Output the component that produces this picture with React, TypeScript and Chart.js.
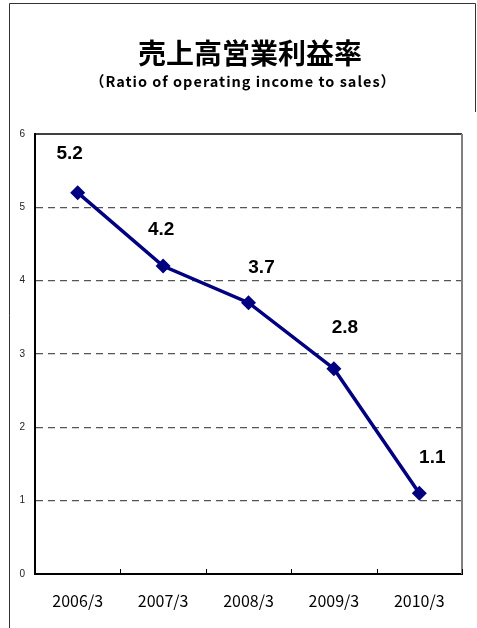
import React, { useEffect, useRef } from "react";
import { Chart, registerables } from "chart.js";

Chart.register(...registerables);

const categories = ["2006/3", "2007/3", "2008/3", "2009/3", "2010/3"];
const ratioValues = [5.2, 4.2, 3.7, 2.8, 1.1];
const valueLabels = ["5.2", "4.2", "3.7", "2.8", "1.1"];
const yTicks = [0, 1, 2, 3, 4, 5, 6];
const titleText = "売上高営業利益率";
const subtitleText = "（Ratio of operating income to sales）";

// label placement offsets relative to each point (style, not data)
const labelOffsetX = [-8, -2, 13, 11, 13];
const labelOffsetY = [-39, -36, -35, -41, -36];

const W = 477;
const H = 628;

const decorPlugin = {
  id: "decor",
  afterDraw(chart: any) {
    const ctx = chart.ctx;
    const area = chart.chartArea;
    const xs = chart.scales.x;
    ctx.save();
    // outer frame
    ctx.strokeStyle = "#333";
    ctx.lineWidth = 1;
    ctx.beginPath();
    ctx.moveTo(9.5, H);
    ctx.lineTo(9.5, 3.5);
    ctx.lineTo(475.5, 3.5);
    ctx.lineTo(475.5, 112);
    ctx.stroke();
    // title
    ctx.fillStyle = "#000";
    ctx.textAlign = "center";
    ctx.textBaseline = "middle";
    ctx.font = "bold 28px 'Noto Sans CJK JP'";
    ctx.fillText(titleText, 250, 53);
    ctx.font = "bold 14.5px 'Noto Sans CJK JP'";
    (ctx as any).letterSpacing = "1px";
    ctx.fillText(subtitleText, 243, 81);
    (ctx as any).letterSpacing = "0px";
    // plot top border
    ctx.strokeStyle = "#000";
    ctx.lineWidth = 1.5;
    ctx.beginPath();
    ctx.moveTo(area.left, area.top);
    ctx.lineTo(area.right, area.top);
    ctx.stroke();
    // plot right border
    ctx.strokeStyle = "#808080";
    ctx.lineWidth = 2;
    ctx.beginPath();
    ctx.moveTo(area.right, area.top);
    ctx.lineTo(area.right, area.bottom);
    ctx.stroke();
    // inward tick marks on x axis at category boundaries
    ctx.strokeStyle = "#000";
    ctx.lineWidth = 1;
    const n = categories.length;
    const step = (area.right - area.left) / n;
    for (let i = 1; i <= n; i++) {
      const x = Math.round(xs.getPixelForValue(i - 1) + step / 2) + 0.5;
      ctx.beginPath();
      ctx.moveTo(x, area.bottom);
      ctx.lineTo(x, area.bottom - 5);
      ctx.stroke();
    }
    // value labels
    const meta = chart.getDatasetMeta(0);
    ctx.fillStyle = "#000";
    ctx.font = "bold 19px 'Liberation Sans'";
    ctx.textAlign = "center";
    ctx.textBaseline = "middle";
    meta.data.forEach((pt: any, i: number) => {
      ctx.fillText(valueLabels[i], pt.x + labelOffsetX[i], pt.y + labelOffsetY[i]);
    });
    ctx.restore();
  },
};

export default function App() {
  const ref = useRef<HTMLCanvasElement | null>(null);
  useEffect(() => {
    document.body.style.margin = "0";
    const canvas = ref.current;
    if (!canvas) return;
    const chart = new Chart(canvas, {
      type: "line",
      data: {
        labels: categories,
        datasets: [
          {
            data: ratioValues,
            borderColor: "#000080",
            backgroundColor: "#000080",
            borderWidth: 3.5,
            pointStyle: "rectRot",
            pointRadius: 7.5,
            pointBorderWidth: 0,
            pointBackgroundColor: "#000080",
            tension: 0,
          },
        ],
      },
      options: {
        responsive: false,
        devicePixelRatio: 1,
        animation: false,
        layout: { padding: { left: 0, right: W - 462, top: 134, bottom: 0 } },
        plugins: { legend: { display: false }, title: { display: false }, tooltip: { enabled: false } },
        scales: {
          x: {
            offset: true,
            grid: { display: false, drawTicks: false },
            border: { display: true, color: "#000", width: 2 },
            ticks: {
              color: "#000",
              padding: 17,
              maxRotation: 0,
              font: { family: "'Noto Sans CJK JP'", size: 16 },
            },
            afterFit: (s: any) => {
              s.height = 54;
            },
          },
          y: {
            min: 0,
            max: 6,
            afterBuildTicks: (s: any) => {
              s.ticks = yTicks.map((v) => ({ value: v }));
            },
            grid: {
              drawTicks: false,
              color: (c: any) =>
                c.tick && (c.tick.value === 0 || c.tick.value === 6) ? "rgba(0,0,0,0)" : "#555555",
              lineWidth: 1.2,
            },
            border: { display: true, color: "#000", width: 2, dash: [7, 5] },
            ticks: {
              color: "#222",
              padding: 10,
              font: { family: "'Liberation Sans'", size: 10 },
            },
            afterFit: (s: any) => {
              s.width = 35;
            },
          },
        },
      },
      plugins: [decorPlugin],
    });
    return () => chart.destroy();
  }, []);
  return (
    <div style={{ position: "fixed", left: 0, top: 0, width: W, height: H, background: "#fff" }}>
      <canvas ref={ref} width={W} height={H} style={{ width: W, height: H, display: "block" }} />
    </div>
  );
}
